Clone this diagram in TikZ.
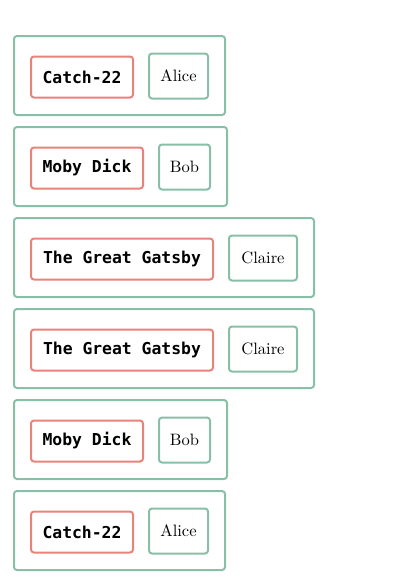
\documentclass[tikz,border=0pt]{standalone}
\usepackage{fontspec}
\setmonofont{DejaVu Sans Mono}
\newfontfamily\namefont{lmroman10-regular.otf}
\definecolor{grn}{HTML}{89BFA7}
\definecolor{rd}{HTML}{E8837A}
\begin{document}
\begin{tikzpicture}[x=1pt,y=-1pt,
  outerbox/.style={draw=grn,line width=2pt,rounded corners=3pt,minimum height=79pt,inner sep=0pt},
  titlebox/.style={draw=rd,line width=2pt,rounded corners=3pt,minimum height=41pt,inner sep=0pt,
    font=\fontsize{16.4}{19}\selectfont\ttfamily\bfseries},
  namebox/.style={draw=grn,line width=2pt,rounded corners=3pt,minimum height=45pt,inner sep=0pt,
    font=\fontsize{16.5}{19}\selectfont\namefont}]
\useasboundingbox (0,0) rectangle (400,584);
\foreach \i/\t/\n/\rc/\rw/\nc/\nw/\oc/\ow in {
  0/Catch-22/Alice/82/102/178.5/59/119.5/211,
  1/Moby Dick/Bob/87/112/184.5/51/120.5/213,
  2/The Great Gatsby/Claire/122/182/263/68/164/300,
  3/The Great Gatsby/Claire/122/182/263/68/164/300,
  4/Moby Dick/Bob/87/112/184.5/51/120.5/213,
  5/Catch-22/Alice/82/102/178.5/59/119.5/211}{
  \pgfmathsetmacro{\top}{36+91*\i}
  \node[outerbox,minimum width=\ow pt] (row\i) at (\oc,\top+39.5) {};
  \node[titlebox,minimum width=\rw pt] (title\i) at (\rc,\top+41) {\t};
  \node[namebox,minimum width=\nw pt] (name\i) at (\nc,\top+40) {\n};
}
\end{tikzpicture}
\end{document}
